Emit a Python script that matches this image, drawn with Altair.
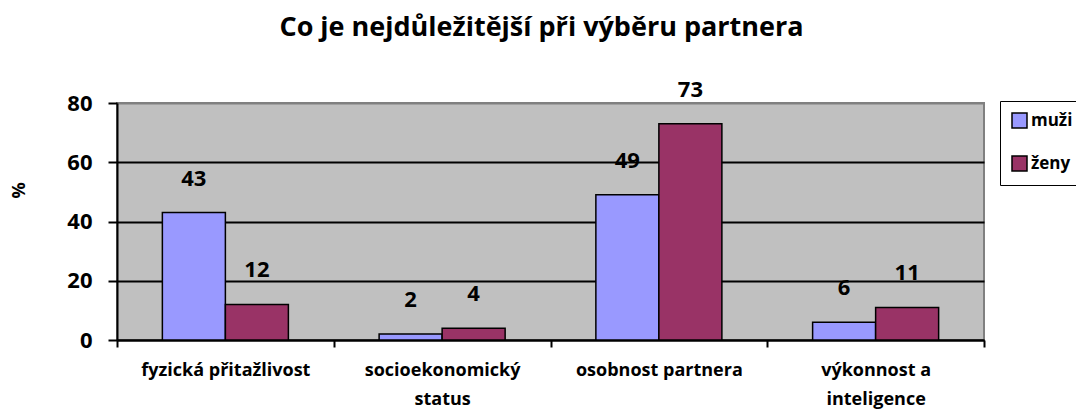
import altair as alt
import pandas as pd

categories = ["fyzická přitažlivost", "socioekonomický status", "osobnost partnera", "výkonnost a inteligence"]
groups = ["muži", "ženy"]
muzi = [43, 2, 49, 6]
zeny = [12, 4, 73, 11]

rows = []
for c, m, z in zip(categories, muzi, zeny):
    rows.append({"kategorie": c, "skupina": "muži", "hodnota": m})
    rows.append({"kategorie": c, "skupina": "ženy", "hodnota": z})
df = pd.DataFrame(rows)

FONT = "Open Sans"
label_expr = ("datum.label == 'socioekonomický status' ? ['socioekonomický','status'] : "
              "datum.label == 'výkonnost a inteligence' ? ['výkonnost a','inteligence'] : datum.label")

x_enc = alt.X("kategorie:N", sort=categories,
              scale=alt.Scale(paddingInner=0, paddingOuter=0),
              axis=alt.Axis(title=None, labelAngle=0, labelExpr=label_expr,
                            labelFont=FONT, labelFontWeight="bold", labelFontSize=18,
                            labelColor="black", labelLineHeight=29, labelPadding=14,
                            tickBand="extent", tickSize=7, tickColor="black", tickWidth=2,
                            domainColor="black", domainWidth=2, grid=False))
xoff = alt.XOffset("skupina:N", sort=groups, scale=alt.Scale(paddingOuter=0.72, paddingInner=0))

bars = alt.Chart(df).mark_bar(stroke="black", strokeWidth=1.5).encode(
    x=x_enc,
    xOffset=xoff,
    y=alt.Y("hodnota:Q", scale=alt.Scale(domain=[0, 80], nice=False),
            axis=alt.Axis(title="%", values=[0, 20, 40, 60, 80], labelFont=FONT,
                          labelFontWeight="bold", labelFontSize=22, labelColor="black",
                          labelPadding=16, tickSize=9, tickColor="black", tickWidth=2,
                          domainColor="black", domainWidth=2,
                          gridColor={"condition": {"test": "datum.value >= 80", "value": "#808080"}, "value": "black"},
                          gridWidth=2,
                          titleFont=FONT, titleFontWeight="bold", titleFontSize=18,
                          titleColor="black", titleX=-98, titleY=87, titleAngle=-90,
                          titleAlign="center", titleBaseline="middle")),
    fill=alt.Fill("skupina:N", sort=groups,
                  scale=alt.Scale(domain=groups, range=["#9999FF", "#993366"]),
                  legend=alt.Legend(title=None, orient="none", legendX=883, legendY=-2,
                                    symbolType="square", symbolSize=225,
                                    symbolStrokeColor="black", symbolStrokeWidth=1.5,
                                    labelFont=FONT, labelFontWeight="bold", labelFontSize=17,
                                    labelColor="black", rowPadding=22, padding=11,
                                    strokeColor="black", fillColor="white", labelOffset=3)),
)

labels = alt.Chart(df).mark_text(font=FONT, fontWeight="bold", fontSize=22, color="black",
                                 dy=-34, baseline="middle").encode(
    x=alt.X("kategorie:N", sort=categories),
    xOffset=alt.XOffset("skupina:N", sort=groups),
    y="hodnota:Q",
    text="hodnota:Q",
)

chart = alt.layer(bars, labels).properties(
    width=867, height=237,
    title=alt.TitleParams("Co je nejdůležitější při výběru partnera", font=FONT,
                          fontWeight="bold", fontSize=27, color="black",
                          anchor="middle", frame="group", offset=37, dx=-9),
    autosize=alt.AutoSizeParams(type="none"),
    padding={"left": 109, "top": 95, "right": 92, "bottom": 70},
    background="white",
).configure_view(fill="#C0C0C0", stroke="#808080", strokeWidth=2)

chart.save("out.html", embed_options={"renderer": "svg", "actions": False})
